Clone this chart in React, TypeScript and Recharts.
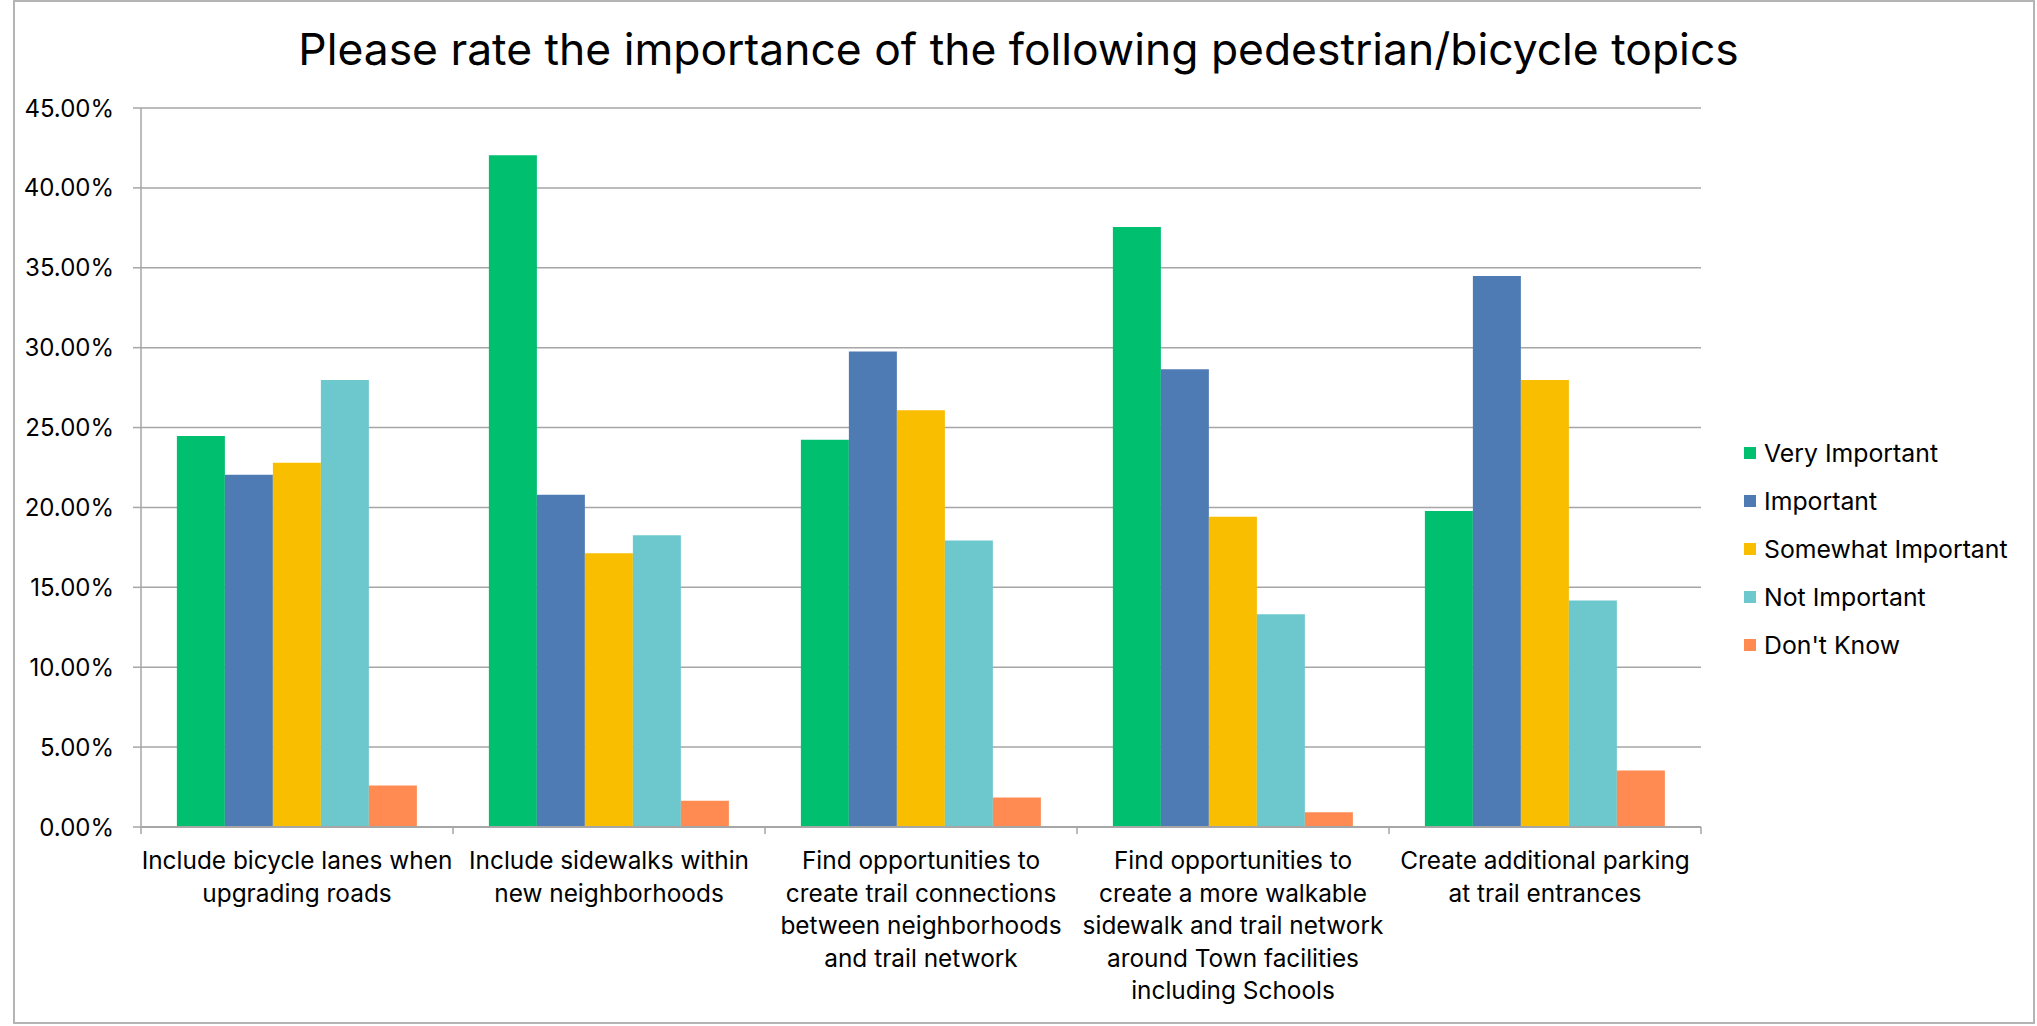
import { BarChart, Bar, XAxis, YAxis, CartesianGrid, Legend } from 'recharts';

const categoryLines = [
  ['Include bicycle lanes when', 'upgrading roads'],
  ['Include sidewalks within', 'new neighborhoods'],
  ['Find opportunities to', 'create trail connections', 'between neighborhoods', 'and trail network'],
  ['Find opportunities to', 'create a more walkable', 'sidewalk and trail network', 'around Town facilities', 'including Schools'],
  ['Create additional parking', 'at trail entrances'],
];

const veryImportant = [24.47, 42.04, 24.23, 37.55, 19.77];
const important = [22.05, 20.79, 29.76, 28.65, 34.48];
const somewhatImportant = [22.8, 17.14, 26.08, 19.41, 27.97];
const notImportant = [27.98, 18.26, 17.93, 13.31, 14.17];
const dontKnow = [2.59, 1.64, 1.84, 0.93, 3.53];

const yTicks = [0, 5, 10, 15, 20, 25, 30, 35, 40, 45];

const series = [
  { key: 'very', name: 'Very Important', color: '#00BF6F' },
  { key: 'important', name: 'Important', color: '#4F7BB4' },
  { key: 'somewhat', name: 'Somewhat Important', color: '#F9BE00' },
  { key: 'not', name: 'Not Important', color: '#6DC8CD' },
  { key: 'dk', name: "Don't Know", color: '#FF8B52' },
];

const data = categoryLines.map((lines, i) => ({
  cat: lines.join(' '),
  very: veryImportant[i],
  important: important[i],
  somewhat: somewhatImportant[i],
  not: notImportant[i],
  dk: dontKnow[i],
}));

const W = 2037;
const H = 1026;
const Y_AXIS_W = 141;
const MARGIN = { top: 108, right: 336, bottom: 0, left: 0 };
const X_AXIS_H = 199;
const bandHalf = (W - MARGIN.left - MARGIN.right - Y_AXIS_W) / categoryLines.length / 2;
const FONT = 'Inter, "Liberation Sans", sans-serif';

function CategoryTick(props: any) {
  const { x, y, index } = props;
  const lines = categoryLines[index] || [];
  const last = index === categoryLines.length - 1;
  return (
    <g>
      <line x1={x - bandHalf} x2={x - bandHalf} y1={y - 7} y2={y} stroke="#A6A6A6" strokeWidth={1.5} />
      {last && <line x1={x + bandHalf} x2={x + bandHalf} y1={y - 7} y2={y} stroke="#A6A6A6" strokeWidth={1.5} />}
      <text x={x} y={y} textAnchor="middle" fill="#000" fontSize={24.4} fontFamily={FONT}>
        {lines.map((l, i) => (
          <tspan key={i} x={x} dy={i === 0 ? 35 : 32.5}>{l}</tspan>
        ))}
      </text>
    </g>
  );
}

function LegendList() {
  return (
    <div style={{ fontFamily: FONT, fontSize: 24.8, color: '#000' }}>
      {series.map((s) => (
        <div key={s.key} style={{ height: 48, display: 'flex', alignItems: 'center', whiteSpace: 'nowrap' }}>
          <span style={{ width: 12, height: 12, background: s.color, display: 'inline-block', marginRight: 8 }} />
          <span>{s.name}</span>
        </div>
      ))}
    </div>
  );
}

export default function App() {
  return (
    <div style={{ position: 'absolute', left: 0, top: 0, width: W, height: H, background: '#fff' }}>
      <div
        style={{
          position: 'absolute',
          left: 13,
          top: 0,
          width: 2022,
          height: 1024,
          border: '2px solid #B4B4B4',
          boxSizing: 'border-box',
        }}
      />
      <div
        style={{
          position: 'absolute',
          left: 0,
          top: 27,
          width: W,
          textAlign: 'center',
          fontFamily: FONT,
          fontSize: 44.4,
          lineHeight: 1,
          color: '#000',
        }}
      >
        Please rate the importance of the following pedestrian/bicycle topics
      </div>
      <div style={{ position: 'absolute', left: 0, top: 0 }}>
        <BarChart
          width={W}
          height={H}
          data={data}
          margin={MARGIN}
          barCategoryGap="11.5%"
          barGap={0}
          style={{ fontFamily: FONT }}
        >
          <CartesianGrid vertical={false} stroke="#A6A6A6" strokeWidth={1.5} />
          <XAxis
            dataKey="cat"
            height={X_AXIS_H}
            interval={0}
            tickLine={false}
            tickSize={7}
            tickMargin={0}
            axisLine={{ stroke: '#A6A6A6', strokeWidth: 2 }}
            tick={<CategoryTick />}
          />
          <YAxis
            width={Y_AXIS_W}
            domain={[0, 45]}
            ticks={yTicks}
            interval={0}
            tickSize={8}
            tickMargin={19}
            tickFormatter={(v: number) => `${v.toFixed(2)}%`}
            tick={{ fill: '#000', fontSize: 24 }}
            axisLine={{ stroke: '#A6A6A6', strokeWidth: 1.5 }}
            tickLine={{ stroke: '#A6A6A6', strokeWidth: 1.5 }}
          />
          <Legend
            layout="horizontal"
            verticalAlign="middle"
            align="center"
            content={<LegendList />}
            wrapperStyle={{ left: 1744, top: 429, width: 290 }}
          />
          {series.map((s) => (
            <Bar key={s.key} dataKey={s.key} name={s.name} fill={s.color} isAnimationActive={false} />
          ))}
        </BarChart>
      </div>
    </div>
  );
}
